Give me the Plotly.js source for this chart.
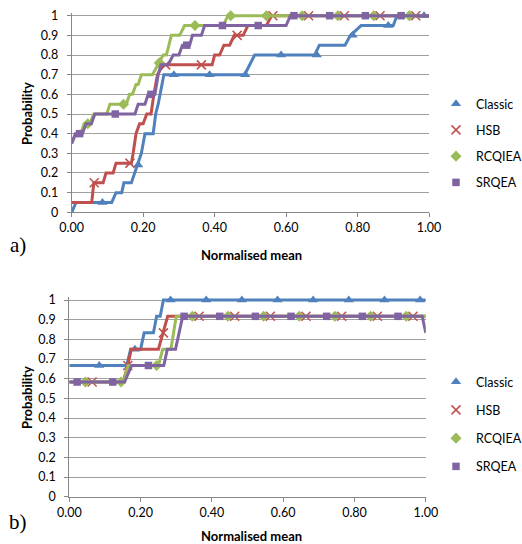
<!DOCTYPE html>
<html>
<head>
<meta charset="utf-8">
<script src="https://cdn.plot.ly/plotly-3.0.1.min.js"></script>
<style>html,body{margin:0;padding:0;background:#fff;overflow:hidden;}#chart{width:522px;height:544px;}</style>
</head>
<body>
<div id="chart"></div>
<script>
// ---- series names ----
const seriesNames = ["Classic", "HSB", "RCQIEA", "SRQEA"];

// ---- panel a) step lines ----
const classicA_x = [0, 0.012, 0.112, 0.124, 0.14, 0.146, 0.167, 0.176, 0.186, 0.195, 0.2, 0.205, 0.228, 0.235, 0.242, 0.248, 0.252, 0.258, 0.484, 0.497, 0.512, 0.68, 0.693, 0.765, 0.78, 0.81, 0.9, 0.91, 1.0];
const classicA_y = [0, 0.05, 0.05, 0.1, 0.1, 0.15, 0.15, 0.2, 0.25, 0.3, 0.35, 0.4, 0.4, 0.5, 0.55, 0.6, 0.65, 0.7, 0.7, 0.75, 0.8, 0.8, 0.85, 0.85, 0.9, 0.95, 0.95, 1.0, 1.0];
const hsbA_x = [0, 0.056, 0.062, 0.088, 0.096, 0.116, 0.124, 0.167, 0.172, 0.18, 0.19, 0.2, 0.21, 0.222, 0.23, 0.24, 0.256, 0.393, 0.4, 0.414, 0.426, 0.442, 0.455, 0.48, 0.493, 0.545, 0.559, 1.0];
const hsbA_y = [0.05, 0.05, 0.15, 0.15, 0.2, 0.2, 0.25, 0.25, 0.3, 0.4, 0.45, 0.45, 0.5, 0.5, 0.6, 0.7, 0.75, 0.75, 0.8, 0.8, 0.85, 0.85, 0.9, 0.9, 0.95, 0.95, 1.0, 1.0];
const rcqA_x = [0, 0.012, 0.025, 0.035, 0.05, 0.062, 0.098, 0.107, 0.153, 0.162, 0.17, 0.18, 0.186, 0.195, 0.226, 0.24, 0.256, 0.265, 0.279, 0.302, 0.316, 0.424, 0.437, 1.0];
const rcqA_y = [0.35, 0.4, 0.4, 0.45, 0.45, 0.5, 0.5, 0.55, 0.55, 0.6, 0.6, 0.65, 0.65, 0.7, 0.7, 0.75, 0.8, 0.8, 0.9, 0.9, 0.95, 0.95, 1.0, 1.0];
const srqA_x = [0, 0.01, 0.03, 0.04, 0.055, 0.065, 0.177, 0.186, 0.205, 0.214, 0.233, 0.242, 0.25, 0.27, 0.284, 0.3, 0.31, 0.33, 0.338, 0.363, 0.372, 0.6, 0.612, 1.0];
const srqA_y = [0.35, 0.4, 0.4, 0.45, 0.45, 0.5, 0.5, 0.55, 0.55, 0.6, 0.6, 0.7, 0.75, 0.75, 0.8, 0.8, 0.85, 0.85, 0.9, 0.9, 0.95, 0.95, 1.0, 1.0];

// ---- panel a) marker points ----
const classicA_mx = [0.086, 0.186, 0.286, 0.386, 0.486, 0.586, 0.686, 0.786, 0.886, 0.986];
const classicA_my = [0.05, 0.24, 0.7, 0.7, 0.7, 0.8, 0.8, 0.9, 0.95, 1.0];
const hsbA_mx = [0.063, 0.163, 0.263, 0.363, 0.463, 0.563, 0.663, 0.763, 0.863, 0.963];
const hsbA_my = [0.15, 0.25, 0.75, 0.75, 0.9, 1.0, 1.0, 1.0, 1.0, 1.0];
const rcqA_mx = [0.045, 0.145, 0.245, 0.345, 0.445, 0.545, 0.645, 0.745, 0.845, 0.945];
const rcqA_my = [0.45, 0.55, 0.76, 0.95, 1.0, 1.0, 1.0, 1.0, 1.0, 1.0];
const srqA_mx = [0.022, 0.122, 0.222, 0.322, 0.422, 0.522, 0.622, 0.722, 0.822, 0.922];
const srqA_my = [0.4, 0.5, 0.6, 0.85, 0.95, 0.95, 1.0, 1.0, 1.0, 1.0];

// ---- panel b) step lines ----
const classicB_x = [0, 0.161, 0.172, 0.2, 0.21, 0.236, 0.245, 0.255, 0.264, 1.0];
const classicB_y = [0.667, 0.667, 0.75, 0.75, 0.833, 0.833, 0.917, 0.917, 1.0, 1.0];
const hsbB_x = [0, 0.151, 0.164, 0.174, 0.25, 0.264, 0.276, 1.0];
const hsbB_y = [0.583, 0.583, 0.667, 0.75, 0.75, 0.833, 0.917, 0.917];
const rcqB_x = [0, 0.152, 0.165, 0.25, 0.262, 0.285, 0.3, 1.0];
const rcqB_y = [0.583, 0.583, 0.667, 0.667, 0.75, 0.75, 0.917, 0.917];
const srqB_x = [0, 0.155, 0.175, 0.265, 0.275, 0.298, 0.318, 0.99, 1.0];
const srqB_y = [0.583, 0.583, 0.667, 0.667, 0.75, 0.75, 0.917, 0.917, 0.833];

// ---- panel b) marker points ----
const classicB_mx = [0.084, 0.184, 0.284, 0.384, 0.484, 0.584, 0.684, 0.784, 0.884, 0.984];
const classicB_my = [0.667, 0.75, 1.0, 1.0, 1.0, 1.0, 1.0, 1.0, 1.0, 1.0];
const hsbB_mx = [0.064, 0.164, 0.264, 0.364, 0.464, 0.564, 0.664, 0.764, 0.864, 0.964];
const hsbB_my = [0.583, 0.667, 0.833, 0.917, 0.917, 0.917, 0.917, 0.917, 0.917, 0.917];
const rcqB_mx = [0.045, 0.145, 0.245, 0.345, 0.445, 0.545, 0.645, 0.745, 0.845, 0.945];
const rcqB_my = [0.583, 0.583, 0.667, 0.917, 0.917, 0.917, 0.917, 0.917, 0.917, 0.917];
const srqB_mx = [0.022, 0.122, 0.222, 0.322, 0.422, 0.522, 0.622, 0.722, 0.822, 0.922];
const srqB_my = [0.583, 0.583, 0.667, 0.917, 0.917, 0.917, 0.917, 0.917, 0.917, 0.917];

// ---- styles ----
const colors = ["#4F81BD", "#C0504D", "#9BBB59", "#8064A2"];
const symbols = ["triangle-up", "x-thin", "diamond", "square"];
const sizes = [9, 9, 8.5, 7.5];
const FONT = "Lato, 'Open Sans', sans-serif";

const panelA = [[classicA_x, classicA_y, classicA_mx, classicA_my], [hsbA_x, hsbA_y, hsbA_mx, hsbA_my], [rcqA_x, rcqA_y, rcqA_mx, rcqA_my], [srqA_x, srqA_y, srqA_mx, srqA_my]];
const panelB = [[classicB_x, classicB_y, classicB_mx, classicB_my], [hsbB_x, hsbB_y, hsbB_mx, hsbB_my], [rcqB_x, rcqB_y, rcqB_mx, rcqB_my], [srqB_x, srqB_y, srqB_mx, srqB_my]];

const traces = [];
function addPanel(panel, xa, ya, legendId, tag) {
  panel.forEach((s, i) => {
    const grp = tag + i;
    traces.push({x: s[0], y: s[1], xaxis: xa, yaxis: ya, type: "scatter", mode: "lines",
      line: {color: colors[i], width: 3}, showlegend: false, legendgroup: grp, legend: legendId, hoverinfo: "skip"});
    const mk = {symbol: symbols[i], size: sizes[i], color: colors[i]};
    if (symbols[i] === "x-thin") mk.line = {color: colors[i], width: 1.5};
    traces.push({x: s[2], y: s[3], xaxis: xa, yaxis: ya, type: "scatter", mode: "markers",
      name: seriesNames[i], marker: mk, showlegend: true, legendgroup: grp, legend: legendId, cliponaxis: false});
  });
}
addPanel(panelA, "x", "y", "legend", "a");
addPanel(panelB, "x2", "y2", "legend2", "b");

const W = 522, H = 544;
const tickFont = {family: FONT, size: 12.5, color: "#000"};
function xAxis(domain, anchor) {
  return {domain: domain, anchor: anchor, range: [0, 1], tick0: 0, dtick: 0.2, tickformat: ".2f",
    showgrid: false, zeroline: false, showline: true, linecolor: "#868686", linewidth: 1,
    ticks: "outside", ticklen: 4, tickcolor: "#868686", tickfont: tickFont, automargin: false, fixedrange: true};
}
function yAxis(domain, anchor) {
  return {domain: domain, anchor: anchor, range: [0, 1.015], tick0: 0, dtick: 0.1,
    showgrid: true, gridcolor: "#a0a0a0", gridwidth: 1, zeroline: false, showline: true, linecolor: "#868686", linewidth: 1,
    ticks: "outside", ticklen: 4, tickcolor: "#868686", tickfont: tickFont, ticklabelstandoff: 6, automargin: false, fixedrange: true};
}
const titleFont = {family: FONT, size: 13, color: "#000", weight: "bold"};
const legendBase = {font: {family: FONT, size: 12.5, color: "#000"}, bgcolor: "rgba(0,0,0,0)", borderwidth: 0,
  xanchor: "left", yanchor: "top", traceorder: "grouped", itemclick: false, itemdoubleclick: false};

const layout = {
  width: W, height: H, margin: {l: 0, r: 0, t: 0, b: 0, autoexpand: false}, paper_bgcolor: "#fff", plot_bgcolor: "#fff",
  font: {family: FONT},
  xaxis: xAxis([71.7 / W, 429 / W], "y"),
  yaxis: yAxis([1 - 212.3 / H, 1 - 12.75 / H], "x"),
  xaxis2: xAxis([69.3 / W, 425.8 / W], "y2"),
  yaxis2: yAxis([1 - 496.7 / H, 1 - 297.05 / H], "x2"),
  legend: Object.assign({}, legendBase, {x: 436 / W, y: 1 - 89 / H, tracegroupgap: 7}),
  legend2: Object.assign({}, legendBase, {x: 436 / W, y: 1 - 367 / H, tracegroupgap: 9}),
  annotations: [
    {text: "Probability", textangle: -90, x: 27 / W, y: 1 - 114 / H, xref: "paper", yref: "paper", showarrow: false, font: titleFont, xanchor: "center", yanchor: "middle"},
    {text: "Normalised mean", x: 251 / W, y: 1 - 255 / H, xref: "paper", yref: "paper", showarrow: false, font: titleFont, xanchor: "center", yanchor: "middle"},
    {text: "a)", x: 18 / W, y: 1 - 245 / H, xref: "paper", yref: "paper", showarrow: false, font: {family: "'Liberation Serif', serif", size: 21, color: "#000"}, xanchor: "center", yanchor: "middle"},
    {text: "Probability", textangle: -90, x: 27 / W, y: 1 - 398 / H, xref: "paper", yref: "paper", showarrow: false, font: titleFont, xanchor: "center", yanchor: "middle"},
    {text: "Normalised mean", x: 251 / W, y: 1 - 536 / H, xref: "paper", yref: "paper", showarrow: false, font: titleFont, xanchor: "center", yanchor: "middle"},
    {text: "b)", x: 18 / W, y: 1 - 522 / H, xref: "paper", yref: "paper", showarrow: false, font: {family: "'Liberation Serif', serif", size: 21, color: "#000"}, xanchor: "center", yanchor: "middle"}
  ]
};

Plotly.newPlot("chart", traces, layout, {displayModeBar: false, staticPlot: true});
</script>
</body>
</html>
